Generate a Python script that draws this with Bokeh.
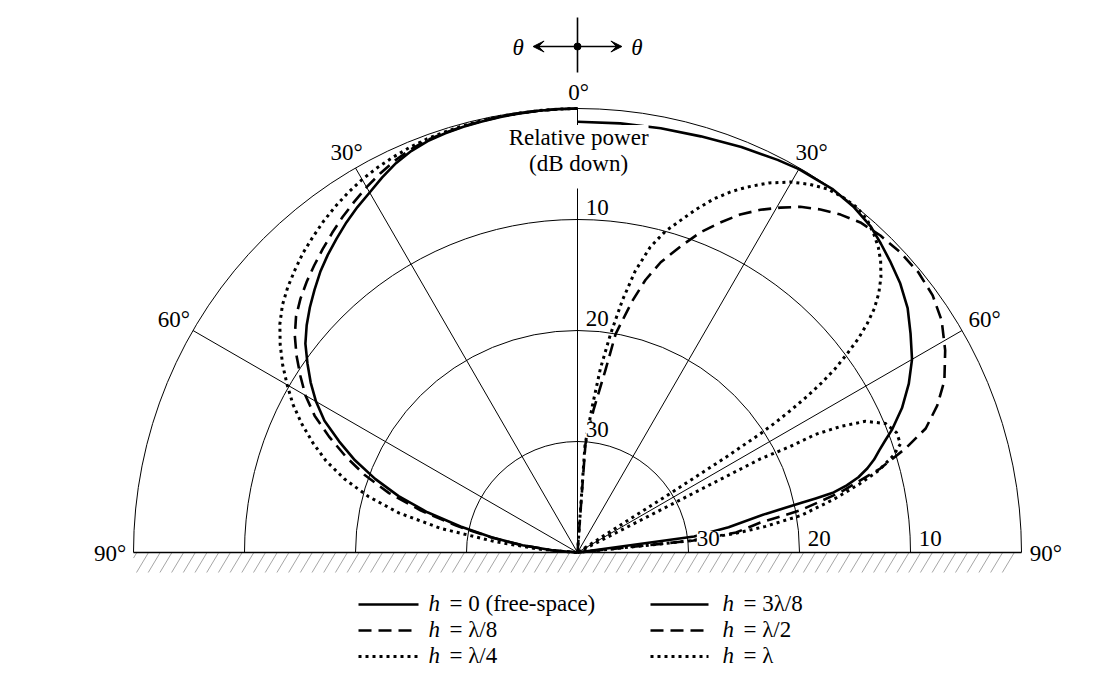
import numpy as np
from bokeh.plotting import figure
from bokeh.models import Range1d, Label, Arrow, VeeHead
from bokeh.embed import file_html
from bokeh.resources import INLINE

# ---------------- data (angle from zenith in degrees, relative power in dB down) -------------
# left half
h0_theta = [0, 2.5, 5, 7.5, 10, 12.5, 15, 17.5, 20, 22.5, 25, 27.5, 30, 32.5, 35, 37.5, 40, 42.5, 45, 47.5,
            50, 52.5, 55, 57.5, 60, 62.5, 65, 67.5, 70, 72.5, 75, 77.5, 80, 82.5, 85, 87.5]
h0_db = [0, 0.02, 0.05, 0.1, 0.15, 0.22, 0.3, 0.4, 0.55, 0.85, 1.3, 1.9, 2.55, 3.1, 3.7, 4.35, 5.0, 5.7, 6.5, 7.3,
         8.15, 9.1, 10.3, 11.5, 12.8, 14.3, 16.3, 18.3, 20.6, 23.1, 26.0, 29.2, 32.2, 35.0, 37.7, 40]

h8_theta = [0, 2.5, 5, 7.5, 10, 12.5, 15, 17.5, 20, 22.5, 25, 27.5, 30, 32.5, 35, 37.5, 40, 42.5, 45, 47.5,
            50, 52.5, 55, 57.5, 60, 62.5, 65, 67.5, 70, 72.5, 75, 77.5, 80, 82.5, 85, 87.5]
h8_db = [0, 0.02, 0.05, 0.08, 0.12, 0.18, 0.25, 0.35, 0.45, 0.7, 1.05, 1.5, 2.0, 2.55, 3.1, 3.7, 4.3, 4.9, 5.5, 6.15,
         6.9, 7.9, 9.1, 10.4, 11.7, 13.3, 15.3, 17.4, 19.6, 22.2, 25.4, 28.8, 32.0, 34.9, 37.6, 40]

h4_theta = [0, 2.5, 5, 7.5, 10, 12.5, 15, 17.5, 20, 22.5, 25, 27.5, 30, 32.5, 35, 37.5, 40, 42.5, 45, 47.5,
            50, 52.5, 55, 57.5, 60, 62.5, 65, 67.5, 70, 72.5, 75, 77.5, 80, 82.5, 85, 87.5, 88.5]
h4_db = [0, 0.02, 0.04, 0.07, 0.1, 0.14, 0.2, 0.27, 0.35, 0.5, 0.7, 0.92, 1.2, 1.55, 1.95, 2.4, 2.9, 3.4, 4.0, 4.6,
         5.3, 6.2, 7.3, 8.5, 9.8, 11.1, 12.6, 14.2, 15.9, 18.0, 20.5, 23.5, 27.5, 32.5, 36.5, 39.5, 40]

# right half
h38_theta = [0, 5.7, 11.1, 16.5, 22, 27, 30, 35, 38.7, 42, 44.5, 47, 50.2, 53.5, 56.7, 60, 63, 66, 68.7, 70.0,
             71.3, 72.6, 73.8, 75.0, 76.0, 76.8, 77.2, 77.5, 78.4, 80.5, 82.2, 82.8]
h38_db = [1.2, 1.15, 1.05, 0.9, 0.6, 0.3, 0.12, 0.0, 0.15, 0.5, 1.0, 1.5, 2.15, 3.0, 4.1, 5.2, 6.5, 8.0, 9.6, 10.5,
          11.3, 12.0, 12.8, 13.8, 15.0, 16.3, 18.0, 19.4, 22.7, 26.2, 29.4, 40]

h2_theta = [2.5, 4.2, 6.4, 8.7, 9.9, 12.3, 14.0, 16.0, 18.6, 21.0, 23.4, 25.7, 28.1, 30.5, 32.8, 35.3, 37.9,
            40.6, 43.7, 47.1, 50.6, 54.1, 57.5, 61.2, 64.9, 67.8, 70.4, 72.4, 74.5, 77.1, 79.3, 80.7, 82.8, 84.1, 84.6]
h2_db = [40, 30.2, 27.1, 23.4, 20.0, 16.8, 14.7, 12.8, 10.9, 9.1, 7.6, 6.2, 5.0, 3.94, 2.95, 2.13, 1.42,
         0.84, 0.5, 0.29, 0.25, 0.5, 1.1, 2.2, 3.5, 5.0, 6.7, 9.0, 11.7, 15.7, 19.6, 23.3, 25.6, 29.5, 40]

h1a_theta = [2.5, 4.0, 5.8, 7.1, 8.6, 10.1, 11.6, 13.4, 15.3, 17.2, 19.2, 21.1, 23.0, 24.9, 27.4, 29.9, 32.2,
             34.5, 36.8, 39.0, 41.0, 42.9, 44.6, 46.1, 47.8, 49.3, 50.6, 51.7, 52.7, 53.6, 54.5, 55.2, 55.8,
             56.3, 56.7, 57.0, 57.3, 57.5, 57.7]
h1a_db = [40, 30.3, 26.7, 23.3, 20.1, 16.9, 14.1, 11.7, 10.0, 8.7, 7.2, 5.85, 4.7, 3.7, 2.5, 1.5, 0.8,
          0.25, 0.05, 0.0, 0.25, 0.8, 1.4, 2.1, 3.1, 4.2, 5.4, 6.75, 8.2, 9.8, 11.5, 13.2, 15.0,
          16.9, 18.6, 20.4, 24, 30, 40]

h1b_theta = [62.6, 62.9, 63.5, 63.6, 64.4, 65.5, 67.3, 69.4, 71.4, 72.9, 74.8, 76.3, 78.3, 80.6, 82.1, 83.1,
             84.1, 84.6]
h1b_db = [40, 21.5, 18.6, 16.1, 13.7, 11.5, 9.9, 9.3, 9.3, 10.2, 11.9, 13.8, 16.45, 19.6, 22.9, 25.7,
          29.5, 40]

ring_db = [10, 20, 30]
ring_text = ["10", "20", "30"]
angle_ticks = [0, 30, 60, 90]
angle_text = ["0\u00b0", "30\u00b0", "60\u00b0", "90\u00b0"]
legend_left = ["= 0 (free-space)", "= \u03bb/8", "= \u03bb/4"]
legend_right = ["= 3\u03bb/8", "= \u03bb/2", "= \u03bb"]
FLOOR = 40  # dB down at the pole

# ---------------- figure ----------------
W, H = 1096, 680
PX = 11.1           # pixels per dB
CX, CY = 577, 552   # pole position on canvas (px from left / top)
FONT = "Liberation Serif"
FS = "23px"

p = figure(width=W, height=H,
           x_range=Range1d(-CX / PX, (W - CX) / PX),
           y_range=Range1d(-(H - CY) / PX, CY / PX),
           output_backend="svg", toolbar_location=None,
           x_axis_location=None, y_axis_location=None,
           min_border=0, outline_line_color=None,
           background_fill_color="white", border_fill_color="white")
p.grid.visible = False
p.title.visible = False


def to_xy(theta, db, side):
    t = np.radians(np.asarray(theta, dtype=float))
    r = np.clip(FLOOR - np.asarray(db, dtype=float), 0, None)
    return side * r * np.sin(t), r * np.cos(t)


# ground hatch ("/" strokes below the baseline)
g_depth = 20 / PX
g_step = 11.7 / PX
g_run = 12 / PX
x0s, y0s, x1s, y1s = [], [], [], []
xt = -FLOOR + 0.3
while xt <= FLOOR:
    xb = xt - g_run
    yb = -g_depth
    if xb < -FLOOR:
        yb = -g_depth * (xt + FLOOR) / g_run
        xb = -FLOOR
    x0s.append(xt); y0s.append(0); x1s.append(xb); y1s.append(yb)
    xt += g_step
p.segment(x0=x0s, y0=y0s, x1=x1s, y1=y1s, line_color="#a6a6a6", line_width=1)

# rings
p.arc(x=0, y=0, radius=[FLOOR - d for d in ring_db] + [FLOOR], start_angle=0, end_angle=np.pi,
      line_color="black", line_width=1)

# radial lines
for a in [30, 60]:
    for s in (-1, 1):
        t = np.radians(a)
        p.line([0, s * FLOOR * np.sin(t)], [0, FLOOR * np.cos(t)], line_color="black", line_width=1)
p.line([0, 0], [0, (552 - 188) / PX], line_color="black", line_width=1)
p.line([0, 0], [(552 - 125) / PX, FLOOR], line_color="black", line_width=1)
p.line([-FLOOR, FLOOR], [0, 0], line_color="black", line_width=1.6)

# curves
DASH = "13 7"
DOT = "3 4"
styles = [
    (h0_theta, h0_db, -1, "solid", 2.6),
    (h8_theta, h8_db, -1, DASH, 2.6),
    (h4_theta, h4_db, -1, DOT, 3),
    (h38_theta, h38_db, 1, "solid", 2.6),
    (h2_theta, h2_db, 1, DASH, 2.6),
    (h1a_theta, h1a_db, 1, DOT, 3),
    (h1b_theta, h1b_db, 1, DOT, 3),
]
for th, db, side, dash, lw in styles:
    x, y = to_xy(th, db, side)
    p.line(x, y, line_color="black", line_width=lw, line_dash=dash, line_join="round")


def add_label(text, x, y, align="center", baseline="middle", italic=False, bg=False):
    lab = Label(x=x, y=y, text=text, text_align=align, text_baseline=baseline,
                text_font=FONT, text_font_size=FS,
                text_font_style="italic" if italic else "normal", text_color="black")
    if bg:
        lab.background_fill_color = "white"
        lab.padding = 0
    p.add_layout(lab)


# angle labels
r_lab = {0: 41.45, 30: 41.6, 60: 42.0}
for a, txt in zip(angle_ticks, angle_text):
    if a == 0:
        add_label(txt, 0.1, r_lab[0])
    elif a == 90:
        add_label(txt, -42.1, -0.05)
        add_label(txt, 42.2, -0.05)
    else:
        t = np.radians(a)
        add_label(txt, -r_lab[a] * np.sin(t), r_lab[a] * np.cos(t))
        add_label(txt, r_lab[a] * np.sin(t) + 0.3, r_lab[a] * np.cos(t))

# ring labels
for d, txt in zip(ring_db, ring_text):
    rr = FLOOR - d
    add_label(txt, 0.75, rr + 1.1, align="left", bg=(d == 30))
    add_label(txt, rr + 0.75, (552 - 538) / PX, align="left", bg=(d == 30))

add_label("Relative power", 0.1, (552 - 137) / PX, bg=True)
add_label("(dB down)", 0.1, (552 - 163) / PX, bg=True)

# theta indicator at top
yc = (552 - 46) / PX
p.line([0, 0], [(552 - 17) / PX, (552 - 72) / PX], line_color="black", line_width=1.6)
for s in (-1, 1):
    p.add_layout(Arrow(end=VeeHead(size=11, line_color="black", fill_color="black", line_width=1),
                       x_start=0, y_start=yc, x_end=s * 4.0, y_end=yc,
                       line_color="black", line_width=1.4))
    add_label("\u03b8", s * 5.35, yc - 0.1, italic=True)
p.scatter([0], [yc], size=7, color="black")

# legend
rows = [(552 - 604) / PX, (552 - 630) / PX, (552 - 656) / PX]
dashes = ["solid", DASH, DOT]
widths = [2.6, 2.6, 3]
cols = [((358 - 577) / PX, (418 - 577) / PX, (428 - 577) / PX, legend_left),
        ((650 - 577) / PX, (708 - 577) / PX, (722 - 577) / PX, legend_right)]
for x1, x2, xt0, texts in cols:
    for yy, dash, lw, txt in zip(rows, dashes, widths, texts):
        p.line([x1, x2], [yy, yy], line_color="black", line_width=lw, line_dash=dash)
        add_label("h", xt0, yy + 0.13, align="left", italic=True)
        add_label(txt, xt0 + 21 / PX, yy + 0.13, align="left")

open("out.html", "w").write(file_html(p, INLINE))
